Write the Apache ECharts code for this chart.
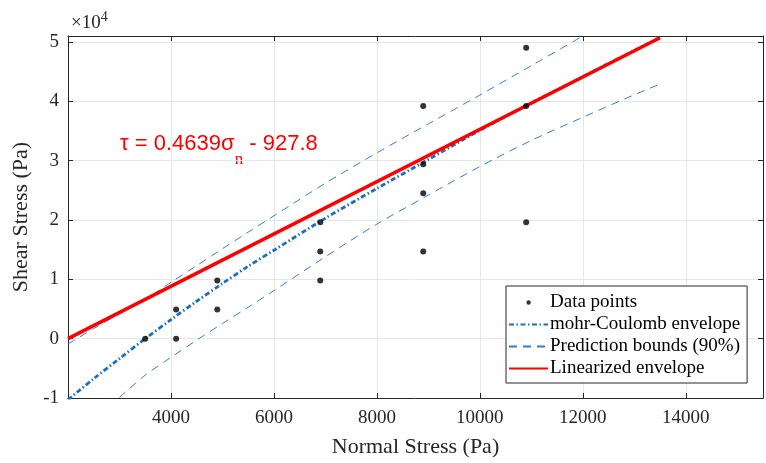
<!DOCTYPE html>
<html>
<head>
    <meta charset="UTF-8">
    <title>Shear vs Normal Stress</title>
    <script src="https://cdn.jsdelivr.net/npm/echarts@6/dist/echarts.min.js"></script>
</head>
<body style="margin: 0; background: #fff">
    <div id="container" style="width: 766px; height: 463px"></div>
    <script type="text/javascript">
        // measured points (Pa)
        var pointX = [3500, 4100, 4100, 4900, 4900, 6900, 6900, 6900, 8900, 8900, 8900, 8900, 10900, 10900, 10900];
        var pointY = [0, 4900, 0, 9800, 4900, 19600, 14700, 9800, 39200, 29400, 24500, 14700, 49000, 39200, 19600];

        // mohr-Coulomb envelope
        var mohrX = [2000, 2500, 3000, 3500, 4000, 4500, 5000, 5500, 6000, 7000, 8000, 9000, 10000, 11000, 12000, 13000, 13500];
        var mohrY = [-10300, -6750, -3350, 0, 3200, 6300, 9300, 12200, 14900, 20300, 25300, 30200, 35100, 39700, 44150, 48550, 50750];

        // prediction bounds (90%)
        var upperX = [2000, 2500, 3000, 3500, 4000, 4500, 5000, 5500, 6000, 7000, 8000, 9000, 10000, 11000, 12000];
        var upperY = [-900, 1700, 4200, 6600, 9500, 12300, 15150, 17950, 20700, 26200, 31300, 36200, 41050, 46000, 51000];
        var lowerX = [3000, 3500, 4000, 4500, 5000, 5500, 6000, 7000, 8000, 9000, 10000, 11000, 12000, 13000, 13500];
        var lowerY = [-9900, -6150, -3150, -250, 2550, 5300, 8100, 13800, 19300, 24200, 29000, 33400, 37300, 41100, 42900];

        // linearized envelope end points
        var linX = [2000, 13500];
        var linY = [0, 50715];

        var seriesNames = ['Data points', 'mohr-Coulomb envelope', 'Prediction bounds (90%)', 'Linearized envelope'];

        function zip(xs, ys) {
            return xs.map(function (x, i) { return [x, ys[i]]; });
        }

        var serif = 'Liberation Serif';
        var axisColor = '#262626';
        var gridColor = '#e6e6e6';
        var noFill = 'rgba(0,0,0,0)';

        var xBase = {
            type: 'value', min: 2000, max: 15500, interval: 2000,
            axisLine: { show: true, onZero: false, lineStyle: { color: axisColor, width: 1 } },
            axisTick: { show: true, inside: true, length: 5, lineStyle: { color: axisColor } }
        };
        var yBase = {
            type: 'value', min: -10000, max: 51000, interval: 10000,
            axisLine: { show: true, onZero: false, lineStyle: { color: axisColor, width: 1 } },
            axisTick: { show: true, inside: true, length: 5, lineStyle: { color: axisColor } }
        };

        var myChart = echarts.init(document.getElementById('container'));
        var option = {
            animation: false,
            grid: { left: 68, right: 1, top: 36, bottom: 65, containLabel: false },
            xAxis: [
                Object.assign({}, xBase, {
                    position: 'bottom',
                    name: 'Normal Stress (Pa)',
                    nameLocation: 'middle',
                    nameGap: 38,
                    nameTextStyle: { fontFamily: serif, fontSize: 22, color: axisColor },
                    axisLabel: {
                        margin: 11, fontFamily: serif, fontSize: 19, color: axisColor,
                        formatter: function (v) { return (v === 2000 || v === 15500) ? '' : String(v); }
                    },
                    splitLine: { show: true, lineStyle: { color: gridColor, width: 1 } }
                }),
                Object.assign({}, xBase, {
                    position: 'top',
                    axisLabel: { show: false },
                    splitLine: { show: false }
                })
            ],
            yAxis: [
                Object.assign({}, yBase, {
                    position: 'left',
                    name: 'Shear Stress (Pa)',
                    nameLocation: 'middle',
                    nameGap: 36,
                    nameTextStyle: { fontFamily: serif, fontSize: 22, color: axisColor },
                    axisLabel: {
                        margin: 9, fontFamily: serif, fontSize: 19, color: axisColor,
                        formatter: function (v) { return v % 10000 === 0 ? String(v / 10000) : ''; }
                    },
                    splitLine: { show: true, lineStyle: { color: gridColor, width: 1 } }
                }),
                Object.assign({}, yBase, {
                    position: 'right',
                    axisLabel: { show: false },
                    splitLine: { show: false }
                })
            ],
            legend: {
                orient: 'vertical',
                left: 506,
                top: 286,
                padding: [7, 7, 5, 2],
                itemWidth: 39,
                itemHeight: 14,
                itemGap: 3,
                backgroundColor: '#fff',
                borderColor: axisColor,
                borderWidth: 1,
                borderRadius: 0,
                textStyle: { fontFamily: serif, fontSize: 19, color: '#000', padding: [0, 0, 0, -3] },
                data: [
                    { name: seriesNames[0], icon: 'path://M0,0L0.01,0M39,14L38.99,14M17.4,7a2.2,2.2 0 1 0 4.4,0a2.2,2.2 0 1 0 -4.4,0Z' },
                    { name: seriesNames[1] },
                    { name: seriesNames[2] },
                    { name: seriesNames[3] }
                ]
            },
            graphic: [
                {
                    type: 'text', left: 71, top: 10,
                    style: {
                        text: '{a|×10}{b|4}',
                        rich: {
                            a: { fontFamily: serif, fontSize: 19, fill: axisColor },
                            b: { fontFamily: serif, fontSize: 14, fill: axisColor, padding: [0, 0, 12, 0] }
                        }
                    }
                },
                {
                    type: 'text', left: 120, top: 133,
                    style: {
                        text: '{a|τ = 0.4639σ}{s|n}{a| - 927.8}',
                        rich: {
                            a: { fontFamily: 'Liberation Sans', fontSize: 22, fill: '#ff0000' },
                            s: { fontFamily: serif, fontSize: 17, fill: '#ff0000', padding: [32, 0, 0, 0] }
                        }
                    }
                }
            ],
            series: [
                {
                    name: seriesNames[0],
                    type: 'scatter',
                    data: zip(pointX, pointY),
                    symbol: 'circle',
                    symbolSize: 6,
                    itemStyle: { color: '#000' },
                    z: 5
                },
                {
                    name: seriesNames[1],
                    type: 'line',
                    data: zip(mohrX, mohrY),
                    smooth: 0.3,
                    symbol: 'circle',
                    showSymbol: false,
                    lineStyle: { color: '#1a6fc0', width: 2.8, type: [5, 2.5, 1.5, 2.5] },
                    itemStyle: { color: noFill },
                    z: 3
                },
                {
                    name: seriesNames[2],
                    type: 'line',
                    data: zip(upperX, upperY),
                    smooth: 0.3,
                    symbol: 'circle',
                    showSymbol: false,
                    lineStyle: { color: '#2f7fd0', width: 1, type: [8, 6] },
                    itemStyle: { color: noFill },
                    z: 2
                },
                {
                    name: seriesNames[2],
                    type: 'line',
                    data: zip(lowerX, lowerY),
                    smooth: 0.3,
                    symbol: 'circle',
                    showSymbol: false,
                    lineStyle: { color: '#2f7fd0', width: 1, type: [8, 6] },
                    itemStyle: { color: noFill },
                    z: 2
                },
                {
                    name: seriesNames[3],
                    type: 'line',
                    data: zip(linX, linY),
                    symbol: 'circle',
                    showSymbol: false,
                    lineStyle: { color: '#ff0000', width: 3.5 },
                    itemStyle: { color: noFill },
                    z: 4
                }
            ]
        };
        myChart.setOption(option);
    </script>
</body>
</html>
